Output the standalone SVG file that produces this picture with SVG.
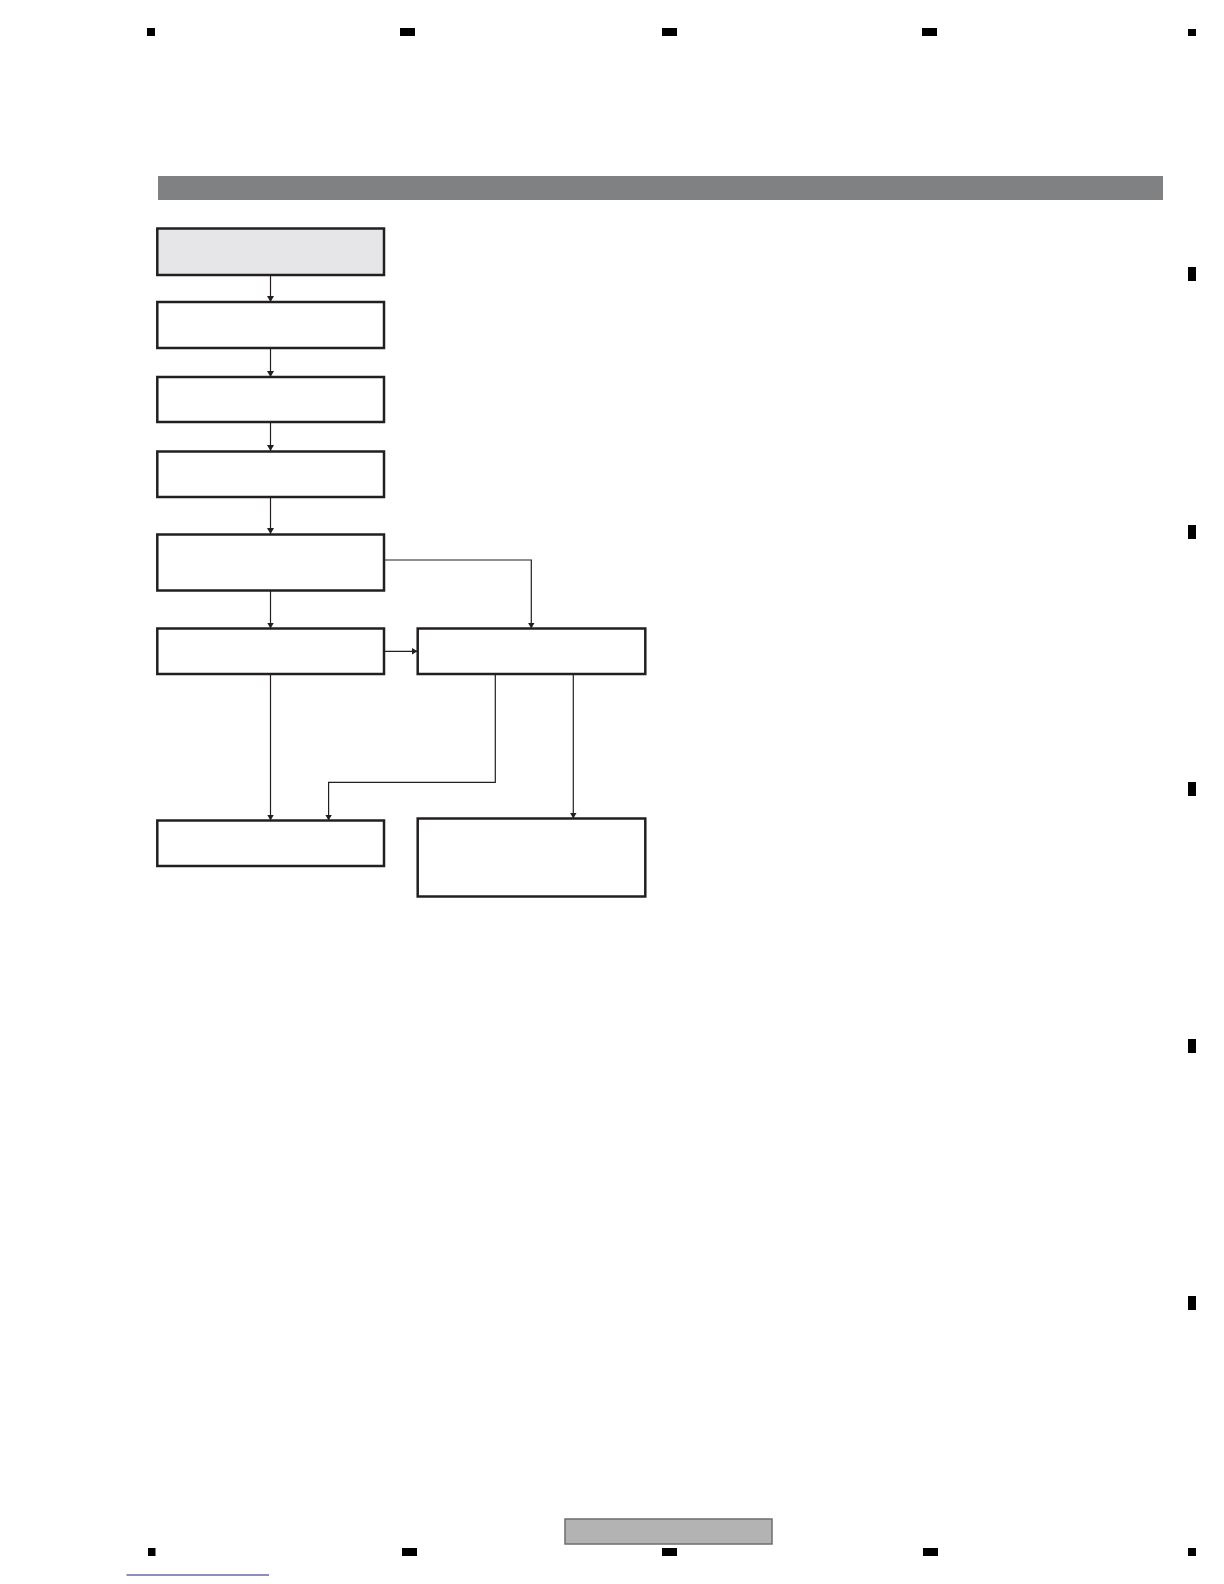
<svg xmlns="http://www.w3.org/2000/svg" width="1224" height="1584" viewBox="0 0 1224 1584">
<style>
.mark{fill:#000}
.box{fill:#fff;stroke:#231f20;stroke-width:2.5}
.start{fill:#e6e6e8}
.conn{fill:none;stroke:#231f20;stroke-width:1.2}
</style>
<defs>
<marker id="ah" markerWidth="6" markerHeight="7" refX="6" refY="3.5" orient="auto" markerUnits="userSpaceOnUse">
<path d="M0,0 L6,3.5 L0,7 Z" fill="#231f20"/>
</marker>
</defs>
<rect width="1224" height="1584" fill="#fff"/>
<g id="page-marks">
<rect class="mark" x="147" y="28" width="8" height="8"/>
<rect class="mark" x="400" y="28" width="15" height="8"/>
<rect class="mark" x="662" y="28" width="15" height="8"/>
<rect class="mark" x="922" y="28" width="15" height="8"/>
<rect class="mark" x="1188" y="29" width="8" height="7"/>
<rect class="mark" x="1188" y="267" width="8" height="14"/>
<rect class="mark" x="1188" y="525" width="8" height="14"/>
<rect class="mark" x="1188" y="782" width="8" height="14"/>
<rect class="mark" x="1188" y="1039" width="8" height="14"/>
<rect class="mark" x="1188" y="1296" width="8" height="14"/>
<rect class="mark" x="148" y="1548" width="7.5" height="8"/>
<rect class="mark" x="402" y="1548" width="15" height="8"/>
<rect class="mark" x="662" y="1548" width="15" height="8"/>
<rect class="mark" x="923" y="1548" width="15" height="8"/>
<rect class="mark" x="1188" y="1548" width="8" height="8"/>
</g>
<g id="header-bar">
<rect x="158" y="176" width="1005" height="24" fill="#808183"/>
</g>
<g id="connectors">
<line class="conn" x1="270.5" y1="275" x2="270.5" y2="302" marker-end="url(#ah)"/>
<line class="conn" x1="270.5" y1="348" x2="270.5" y2="377" marker-end="url(#ah)"/>
<line class="conn" x1="270.5" y1="422" x2="270.5" y2="451" marker-end="url(#ah)"/>
<line class="conn" x1="270.5" y1="497" x2="270.5" y2="534" marker-end="url(#ah)"/>
<line class="conn" x1="270.5" y1="590" x2="270.5" y2="628.5" marker-end="url(#ah)"/>
<polyline class="conn" points="384,560 531.3,560 531.3,628.5" marker-end="url(#ah)"/>
<line class="conn" x1="384" y1="651.3" x2="417.5" y2="651.3" marker-end="url(#ah)"/>
<line class="conn" x1="270.5" y1="674" x2="270.5" y2="820.5" marker-end="url(#ah)"/>
<polyline class="conn" points="495.3,674 495.3,782.3 328.6,782.3 328.6,820.5" marker-end="url(#ah)"/>
<line class="conn" x1="573.3" y1="674" x2="573.3" y2="818.5" marker-end="url(#ah)"/>
</g>
<g id="node-1"><rect class="box start" x="157.3" y="228.5" width="226.7" height="46.5"/></g>
<g id="node-2"><rect class="box" x="157.3" y="302" width="226.7" height="46"/></g>
<g id="node-3"><rect class="box" x="157.3" y="377" width="226.7" height="45"/></g>
<g id="node-4"><rect class="box" x="157.3" y="451.5" width="226.7" height="45.5"/></g>
<g id="node-5"><rect class="box" x="157.3" y="534.5" width="226.7" height="56"/></g>
<g id="node-6"><rect class="box" x="157.3" y="628.5" width="226.7" height="45.5"/></g>
<g id="node-7"><rect class="box" x="417.7" y="628.5" width="227.6" height="45.5"/></g>
<g id="node-8"><rect class="box" x="157.3" y="820.5" width="226.7" height="45.5"/></g>
<g id="node-9"><rect class="box" x="417.7" y="818.5" width="227.6" height="78"/></g>
<g id="footer-box">
<rect x="565" y="1519" width="207" height="25" fill="#b3b3b3" stroke="#6d6e70" stroke-width="1.5"/>
</g>
<g id="footer-line">
<line x1="126.5" y1="1575" x2="269" y2="1575" stroke="#1f1f7a" stroke-width="1.2"/>
</g>
</svg>
